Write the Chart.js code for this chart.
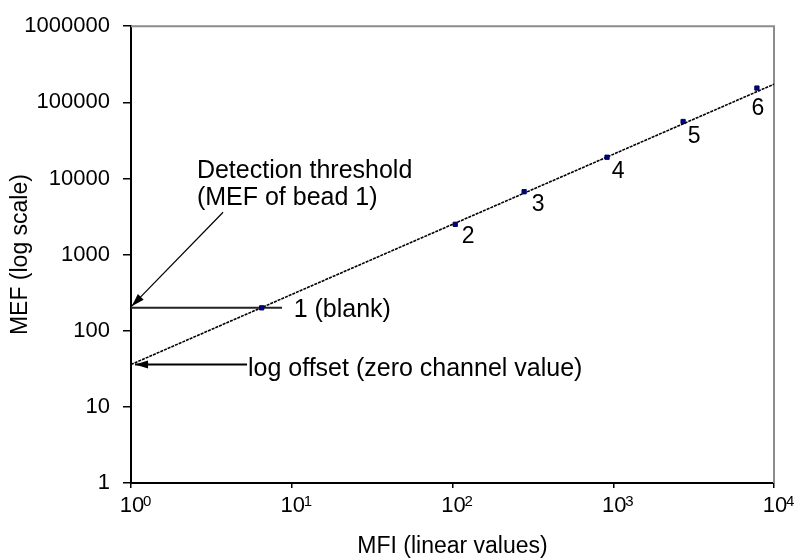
<!DOCTYPE html>
<html lang="en">
<head>
<meta charset="UTF-8" />
<title>MEF vs MFI calibration</title>
<script src="https://cdn.jsdelivr.net/npm/chart.js@4.4.0/dist/chart.umd.min.js"></script>
<style>
  html, body { margin: 0; padding: 0; background: #fff; }
</style>
</head>
<body>
<canvas id="myChart" width="798" height="560"></canvas>
<script>
// calibration beads
const beadNames = ['1 (blank)', '2', '3', '4', '5', '6'];
const beadMFI = [6.5, 104, 279, 915, 2720, 7830];
const beadMEF = [200, 2500, 6700, 19000, 56000, 154000];

// fitted line from the zero channel out to the right edge
const fitMFI = [1, 10000];
const fitMEF = [36, 173000];

// detection threshold = MEF of bead 1
const threshMFI = [1, 8.7];
const threshMEF = [200, 200];

// arrows, tail -> head
const detArrowMFI = [3.74, 1.01];
const detArrowMEF = [3600, 210];
const offArrowMFI = [5.27, 1.06];
const offArrowMEF = [36, 36];

// free text
const noteTexts = ['Detection threshold', '(MEF of bead 1)', 'log offset (zero channel value)'];
const noteMFI = [2.57, 2.57, 5.34];
const noteMEF = [10200, 4450, 31.7];

const xTicks = [1, 10, 100, 1000, 10000];
const xExponents = ['0', '1', '2', '3', '4'];
const yTicks = [1, 10, 100, 1000, 10000, 100000, 1000000];

const FONT = 'Liberation Sans, Arial, sans-serif';
const pts = (xs, ys) => xs.map((v, i) => ({x: v, y: ys[i]}));

// label offsets next to each bead (px)
const labelOffsets = [[32, 2], [13, 12], [14, 13], [11, 14], [11, 15], [1, 21]];

const annotate = {
  id: 'annotate',
  beforeDatasetsDraw(chart) {
    const {ctx, chartArea: a} = chart;
    ctx.save();
    ctx.strokeStyle = '#8c8c8c';
    ctx.lineWidth = 2;
    ctx.beginPath();
    ctx.moveTo(a.left, a.top);
    ctx.lineTo(a.right, a.top);
    ctx.lineTo(a.right, a.bottom);
    ctx.stroke();
    ctx.restore();
  },
  afterDraw(chart) {
    const {ctx, scales: {x, y}} = chart;
    ctx.save();
    ctx.fillStyle = '#000';

    // arrowheads
    function head(mx, my, len, wid) {
      const x1 = x.getPixelForValue(mx[0]), y1 = y.getPixelForValue(my[0]);
      const x2 = x.getPixelForValue(mx[1]), y2 = y.getPixelForValue(my[1]);
      const ang = Math.atan2(y2 - y1, x2 - x1);
      const c = Math.cos(ang), s = Math.sin(ang);
      ctx.beginPath();
      ctx.moveTo(x2, y2);
      ctx.lineTo(x2 - len * c + wid / 2 * s, y2 - len * s - wid / 2 * c);
      ctx.lineTo(x2 - len * c - wid / 2 * s, y2 - len * s + wid / 2 * c);
      ctx.closePath();
      ctx.fill();
    }
    head(detArrowMFI, detArrowMEF, 13, 8);
    head(offArrowMFI, offArrowMEF, 13, 8);

    // x tick labels as 10 with a raised exponent
    xTicks.forEach((v, i) => {
      const px = x.getPixelForValue(v);
      ctx.textBaseline = 'alphabetic';
      ctx.textAlign = 'center';
      ctx.font = '22px ' + FONT;
      ctx.fillText('10', px + 1, x.top + 29);
      ctx.textAlign = 'left';
      ctx.font = '15px ' + FONT;
      ctx.fillText(xExponents[i], px + 12, x.top + 23);
    });

    // bead numbers
    ctx.textBaseline = 'middle';
    beadNames.forEach((name, i) => {
      const px = x.getPixelForValue(beadMFI[i]);
      const py = y.getPixelForValue(beadMEF[i]);
      const off = labelOffsets[i];
      if (i === 0) {
        ctx.font = '25px ' + FONT;
        ctx.textAlign = 'left';
      } else {
        ctx.font = '23px ' + FONT;
        ctx.textAlign = 'center';
      }
      ctx.fillText(name, px + off[0], py + off[1]);
    });

    // free notes
    ctx.font = '25px ' + FONT;
    ctx.textAlign = 'left';
    noteTexts.forEach((t, i) => {
      ctx.textBaseline = i < 2 ? 'alphabetic' : 'middle';
      ctx.fillText(t, x.getPixelForValue(noteMFI[i]), y.getPixelForValue(noteMEF[i]));
    });
    ctx.restore();
  }
};

const ctx = document.getElementById('myChart').getContext('2d');
const myChart = new Chart(ctx, {
  type: 'scatter',
  data: {
    datasets: [
      {
        label: 'beads',
        data: pts(beadMFI, beadMEF),
        pointStyle: 'rect',
        pointRadius: 3,
        backgroundColor: '#00008b',
        borderColor: '#000050',
        borderWidth: 1,
        order: 0
      },
      {
        label: 'fit',
        data: pts(fitMFI, fitMEF),
        showLine: true,
        borderColor: '#000',
        borderWidth: 1.6,
        borderDash: [3, 1],
        pointRadius: 0,
        order: 1
      },
      {
        label: 'threshold',
        data: pts(threshMFI, threshMEF),
        showLine: true,
        borderColor: '#222',
        borderWidth: 2,
        pointRadius: 0,
        order: 2
      },
      {
        label: 'detection arrow',
        data: pts(detArrowMFI, detArrowMEF),
        showLine: true,
        borderColor: '#000',
        borderWidth: 1.2,
        pointRadius: 0,
        order: 3
      },
      {
        label: 'offset arrow',
        data: pts(offArrowMFI, offArrowMEF),
        showLine: true,
        borderColor: '#000',
        borderWidth: 2,
        pointRadius: 0,
        order: 4
      }
    ]
  },
  options: {
    responsive: false,
    animation: false,
    layout: { padding: { top: 19, right: 24, left: 0, bottom: 0 } },
    plugins: { legend: { display: false }, tooltip: { enabled: false } },
    scales: {
      x: {
        type: 'logarithmic',
        min: 1,
        max: 10000,
        afterBuildTicks: s => { s.ticks = xTicks.map(v => ({value: v})); },
        afterFit: s => { s.height = 77; },
        grid: { drawOnChartArea: false, drawTicks: true, tickLength: 5, color: '#000', lineWidth: 1.5 },
        border: { color: '#000', width: 2 },
        ticks: { display: false },
        title: {
          display: true,
          text: 'MFI (linear values)',
          color: '#000',
          font: { family: FONT, size: 23 },
          padding: { top: 0, bottom: 0 }
        }
      },
      y: {
        type: 'logarithmic',
        min: 1,
        max: 1000000,
        afterBuildTicks: s => { s.ticks = yTicks.map(v => ({value: v})); },
        afterFit: s => { s.width = 131; },
        grid: { drawOnChartArea: false, drawTicks: true, tickLength: 8, color: '#000', lineWidth: 1.5 },
        border: { color: '#000', width: 2 },
        ticks: {
          autoSkip: false,
          callback: v => String(v),
          color: '#000',
          padding: 13,
          font: { family: FONT, size: 22 }
        },
        title: {
          display: true,
          text: 'MEF (log scale)',
          color: '#000',
          font: { family: FONT, size: 23 },
          padding: { top: 7, bottom: 0 }
        }
      }
    }
  },
  plugins: [annotate]
});
</script>
</body>
</html>
